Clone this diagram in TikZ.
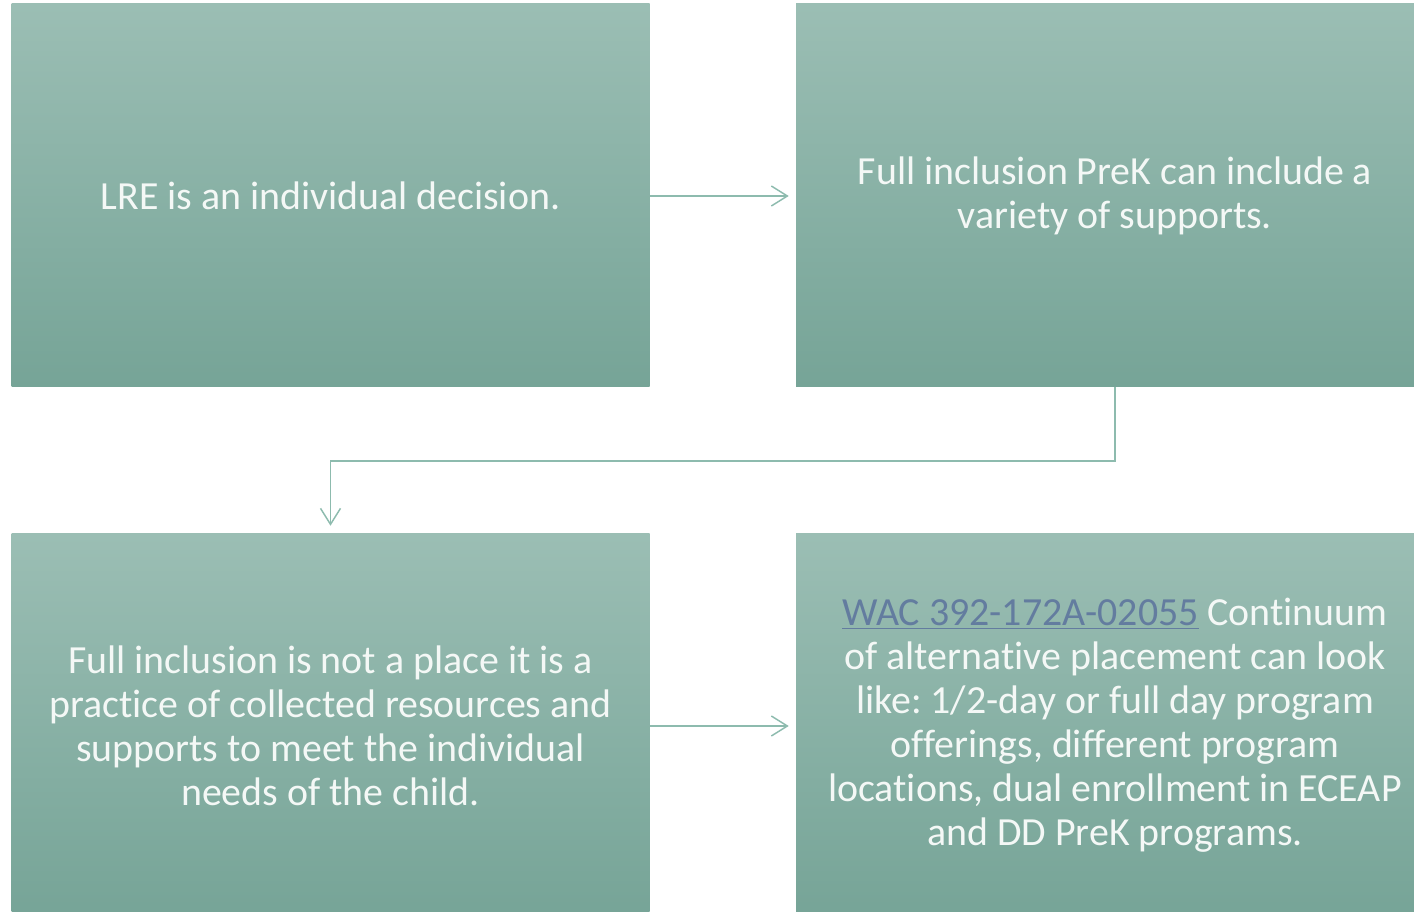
\documentclass[tikz,border=0pt]{standalone}
\usepackage{fontspec}
\setmainfont{Carlito}[Ligatures={NoCommon}]
\usetikzlibrary{arrows.meta,calc}
\definecolor{boxtop}{HTML}{9BBEB4}
\definecolor{boxbot}{HTML}{76A497}
\definecolor{linecol}{HTML}{8DBBAE}
\definecolor{txtcol}{HTML}{F4F8F6}
\definecolor{linkcol}{HTML}{637C9F}
\frenchspacing
\tikzset{
  box/.style={rectangle, inner sep=0pt, minimum width=478.5pt, minimum height=287.25pt,
    top color=boxtop, bottom color=boxbot, draw=none,
    text=txtcol, align=center, font=\fontsize{29.9pt}{33pt}\selectfont},
  conn/.style={draw=linecol, line width=1.1pt, -{Straight Barb[length=12pt,width=15pt,line width=1.1pt]}}
}
\begin{document}
\begin{tikzpicture}[x=0.75pt,y=-0.75pt]
\clip (0,0) rectangle (1414,912);
\fill[white] (0,0) rectangle (1414,912);
\node[box] (b1) at (330.5,195.5) {LRE is an individual decision.};
\node[box] (b2) at (1115,195.5) {Full inclusion PreK can include a\\variety of supports.};
\node[box] (b3) at (330.5,725.5) {Full inclusion is not a place it is a\\practice of collected resources and\\supports to meet the individual\\needs of the child.};
\node[box] (b4) at (1115,725.5) {\textcolor{linkcol}{\underline{WAC 392-172A-02055}} Continuum\\of alternative placement can look\\like: 1/2-day or full day program\\offerings, different program\\locations, dual enrollment in ECEAP\\and DD PreK programs.};
\coordinate (m) at (0,461);
\draw[conn, shorten >=5.25pt] (b1.east |- 0,196) -- (b2.west |- 0,196);
\draw[conn, shorten >=6pt] (b2.south) |- (m -| b3.north) -- (b3.north);
\draw[conn, shorten >=5.25pt] (b3.east |- 0,726) -- (b4.west |- 0,726);
\end{tikzpicture}
\end{document}
